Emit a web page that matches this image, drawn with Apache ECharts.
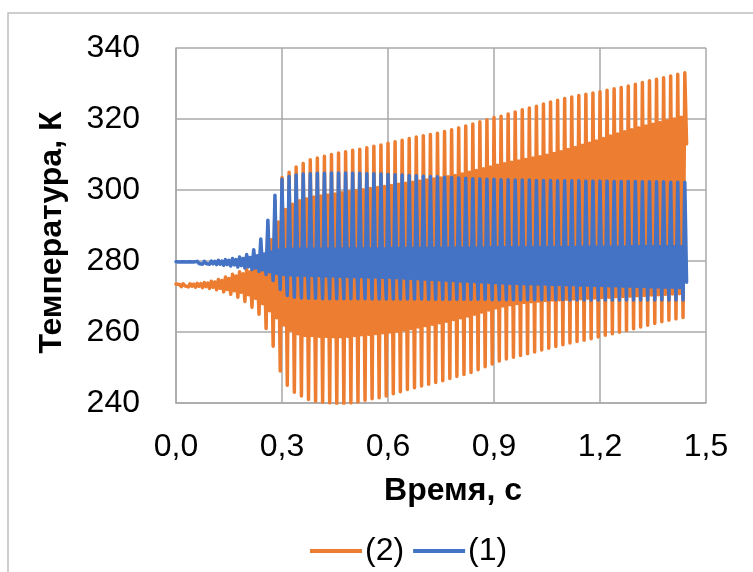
<!DOCTYPE html>
<html>
<head>
<meta charset="utf-8">
<script src="https://cdn.jsdelivr.net/npm/echarts@6/dist/echarts.min.js"></script>
<style>
  html, body { margin: 0; padding: 0; background: #fff; }
  #chart { width: 753px; height: 572px; }
</style>
</head>
<body>
<div id="chart"></div>
<script>
// start time of each 50 Hz cycle, s
const cycleT = [
  0.00, 0.02, 0.04, 0.06, 0.08, 0.10, 0.12, 0.14, 0.16, 0.18,
  0.20, 0.22, 0.24, 0.26, 0.28, 0.30, 0.32, 0.34, 0.36, 0.38,
  0.40, 0.42, 0.44, 0.46, 0.48, 0.50, 0.52, 0.54, 0.56, 0.58,
  0.60, 0.62, 0.64, 0.66, 0.68, 0.70, 0.72, 0.74, 0.76, 0.78,
  0.80, 0.82, 0.84, 0.86, 0.88, 0.90, 0.92, 0.94, 0.96, 0.98,
  1.00, 1.02, 1.04, 1.06, 1.08, 1.10, 1.12, 1.14, 1.16, 1.18,
  1.20, 1.22, 1.24, 1.26, 1.28, 1.30, 1.32, 1.34, 1.36, 1.38,
  1.40, 1.42, 1.44
];
// position of the 4 extremes inside one cycle, s
const phase = [0, 0.005, 0.01, 0.015];

// (2) - orange: main peak, secondary dip, secondary peak, main trough (K)
const orangePeak = [
  273.5, 273.6, 273.6, 273.7, 273.9, 274.3, 274.8, 275.5, 276.3, 277.0,
  277.8, 279.0, 283.0, 290.0, 297.0, 303.5, 305.0, 306.5, 307.5, 308.5,
  309.0, 309.5, 310.0, 310.4, 310.8, 311.2, 311.5, 311.9, 312.3, 312.7,
  313.2, 313.6, 314.0, 314.5, 314.9, 315.3, 315.6, 316.0, 316.5, 317.0,
  317.5, 318.0, 318.6, 319.2, 319.8, 320.4, 320.8, 321.4, 322.0, 322.6,
  323.1, 323.6, 324.2, 324.8, 325.3, 325.8, 326.2, 326.6, 327.0, 327.3,
  327.7, 328.1, 328.5, 328.9, 329.3, 329.8, 330.3, 330.8, 331.2, 331.6,
  332.1, 332.6, 333.0
];
const orangeDip = [
  273.0, 273.0, 272.9, 272.9, 272.8, 272.6, 272.3, 272.0, 271.6, 271.2,
  270.5, 269.5, 268.0, 266.0, 264.0, 262.0, 260.5, 259.5, 259.0, 259.0,
  258.8, 258.8, 258.7, 258.7, 258.8, 259.0, 259.2, 259.4, 259.6, 259.8,
  260.0, 260.3, 260.6, 261.0, 261.4, 261.8, 262.2, 262.6, 263.0, 263.5,
  264.0, 264.5, 265.0, 265.6, 266.2, 266.8, 267.3, 267.7, 268.0, 268.3,
  268.5, 268.7, 268.9, 269.0, 269.1, 269.2, 269.3, 269.4, 269.5, 269.6,
  269.7, 269.8, 269.9, 270.0, 270.1, 270.2, 270.3, 270.4, 270.5, 270.6,
  270.7, 270.8, 313.0
];
const orangePeak2 = [
  273.4, 273.5, 273.5, 273.6, 273.8, 274.1, 274.5, 275.1, 275.8, 276.4,
  277.0, 278.0, 281.0, 286.0, 291.0, 294.5, 296.0, 297.0, 297.5, 298.0,
  298.3, 298.6, 298.9, 299.2, 299.5, 299.8, 300.1, 300.4, 300.7, 301.0,
  301.3, 301.6, 301.9, 302.2, 302.5, 302.8, 303.1, 303.4, 303.7, 304.1,
  304.5, 305.0, 305.5, 306.0, 306.5, 307.0, 307.4, 307.8, 308.2, 308.6,
  309.0, 309.4, 309.8, 310.3, 310.8, 311.4, 312.0, 312.6, 313.2, 313.8,
  314.5, 315.2, 315.8, 316.4, 317.0, 317.5, 318.0, 318.5, 319.0, 319.5,
  320.0, 320.5
];
const orangeTrough = [
  272.8, 272.7, 272.6, 272.5, 272.3, 271.9, 271.3, 270.6, 269.8, 268.6,
  267.0, 265.0, 261.0, 256.0, 249.0, 245.0, 243.0, 242.0, 241.0, 240.5,
  240.2, 240.0, 239.8, 239.8, 240.0, 240.3, 240.8, 241.2, 241.5, 242.0,
  242.6, 243.2, 243.8, 244.3, 244.8, 245.3, 245.8, 246.3, 246.9, 247.5,
  248.0, 248.6, 249.4, 250.2, 251.0, 251.8, 252.4, 252.9, 253.4, 253.9,
  254.4, 254.9, 255.4, 255.9, 256.4, 256.9, 257.3, 257.7, 258.1, 258.6,
  259.1, 259.5, 259.9, 260.4, 260.9, 261.4, 261.9, 262.4, 262.9, 263.3,
  263.7, 264.1
];

// (1) - blue
const bluePeak = [
  279.8, 279.8, 279.8, 279.9, 279.9, 280.0, 280.2, 280.4, 280.7, 281.1,
  281.8, 283.2, 286.2, 291.5, 298.5, 303.0, 303.8, 304.2, 304.5, 304.6,
  304.7, 304.7, 304.8, 304.8, 304.8, 304.7, 304.7, 304.6, 304.6, 304.5,
  304.4, 304.3, 304.2, 304.1, 304.0, 303.9, 303.8, 303.7, 303.6, 303.5,
  303.4, 303.3, 303.2, 303.1, 303.0, 303.0, 302.9, 302.9, 302.8, 302.8,
  302.8, 302.7, 302.7, 302.7, 302.6, 302.6, 302.6, 302.6, 302.5, 302.5,
  302.5, 302.5, 302.4, 302.4, 302.4, 302.4, 302.3, 302.3, 302.3, 302.3,
  302.2, 302.2, 302.2
];
const blueDip = [
  279.4, 279.4, 279.4, 279.3, 279.3, 279.2, 279.1, 279.0, 278.9, 278.7,
  278.4, 278.0, 277.5, 277.0, 276.5, 276.2, 276.1, 276.0, 276.0, 275.9,
  275.9, 275.8, 275.8, 275.7, 275.7, 275.6, 275.6, 275.5, 275.5, 275.4,
  275.4, 275.3, 275.2, 275.1, 275.0, 274.9, 274.8, 274.7, 274.6, 274.5,
  274.4, 274.3, 274.2, 274.1, 274.0, 273.9, 273.8, 273.7, 273.7, 273.6,
  273.6, 273.5, 273.5, 273.4, 273.4, 273.3, 273.3, 273.2, 273.2, 273.1,
  273.1, 273.0, 273.0, 272.9, 272.9, 272.8, 272.8, 272.7, 272.7, 272.6,
  272.6, 272.5, 274.0
];
const bluePeak2 = [
  279.7, 279.7, 279.7, 279.8, 279.8, 279.9, 280.0, 280.2, 280.4, 280.7,
  281.0, 281.5, 282.0, 282.5, 283.0, 283.2, 283.3, 283.3, 283.3, 283.3,
  283.3, 283.3, 283.3, 283.4, 283.4, 283.4, 283.4, 283.4, 283.4, 283.4,
  283.5, 283.5, 283.5, 283.5, 283.5, 283.5, 283.5, 283.6, 283.6, 283.6,
  283.6, 283.6, 283.6, 283.6, 283.7, 283.7, 283.7, 283.7, 283.7, 283.7,
  283.8, 283.8, 283.8, 283.8, 283.8, 283.8, 283.8, 283.9, 283.9, 283.9,
  283.9, 283.9, 283.9, 283.9, 284.0, 284.0, 284.0, 284.0, 284.0, 284.0,
  284.0, 284.0
];
const blueTrough = [
  279.2, 279.2, 279.2, 279.1, 279.1, 279.0, 278.8, 278.6, 278.3, 278.0,
  277.6, 277.1, 276.2, 274.5, 272.0, 270.3, 269.8, 269.6, 269.5, 269.5,
  269.4, 269.4, 269.4, 269.4, 269.4, 269.4, 269.4, 269.3, 269.3, 269.3,
  269.3, 269.3, 269.3, 269.3, 269.3, 269.2, 269.2, 269.2, 269.2, 269.2,
  269.2, 269.2, 269.2, 269.2, 269.1, 269.1, 269.1, 269.1, 269.1, 269.1,
  269.1, 269.1, 269.1, 269.1, 269.1, 269.0, 269.0, 269.0, 269.0, 269.0,
  269.0, 269.0, 269.0, 269.0, 269.0, 269.0, 269.0, 269.0, 269.0, 269.0,
  269.0, 269.0
];

const xTicks = [0, 0.3, 0.6, 0.9, 1.2, 1.5];
const yTicks = [240, 260, 280, 300, 320, 340];

// join the extremes of every cycle into one trace
function trace(p1, d, p2, t1) {
  const pts = [];
  cycleT.forEach((t, i) => {
    [p1[i], d[i], p2[i], t1[i]].forEach((v, k) => {
      if (v !== undefined) pts.push([+(t + phase[k]).toFixed(4), v]);
    });
  });
  return pts;
}

const font = 'Liberation Sans';
const gridColor = '#a9a9a9';

const myChart = echarts.init(document.getElementById('chart'), null, { renderer: 'canvas' });

const option = {
  animation: false,
  backgroundColor: '#fff',
  textStyle: { fontFamily: font, color: '#000' },
  graphic: [{
    type: 'rect',
    shape: { x: 8, y: 13, width: 800, height: 620 },
    style: { fill: 'none', stroke: '#bfbfbf', lineWidth: 1.5 },
    silent: true
  }],
  grid: { left: 176, right: 47, top: 48, bottom: 169 },
  legend: {
    data: ['(2)', '(1)'],
    left: 305,
    top: 530,
    icon: 'rect',
    itemWidth: 52,
    itemHeight: 4,
    itemGap: 9,
    textStyle: { fontFamily: font, fontSize: 32, color: '#000', padding: [0, 0, 0, -2] }
  },
  xAxis: {
    type: 'value',
    min: xTicks[0],
    max: xTicks[xTicks.length - 1],
    interval: 0.3,
    name: 'Время, с',
    nameLocation: 'middle',
    nameGap: 72,
    nameTextStyle: { fontFamily: font, fontSize: 32, fontWeight: 'bold', color: '#000', padding: [0, 0, 0, 24] },
    axisLine: { show: true, lineStyle: { color: gridColor, width: 1.5 } },
    axisTick: { show: false },
    axisLabel: {
      fontSize: 32, color: '#000', margin: 28,
      formatter: v => v.toFixed(1).replace('.', ',')
    },
    splitLine: { show: true, lineStyle: { color: gridColor, width: 1.5 } }
  },
  yAxis: {
    type: 'value',
    min: yTicks[0],
    max: yTicks[yTicks.length - 1],
    interval: 20,
    name: 'Температура, К',
    nameLocation: 'middle',
    nameGap: 108,
    nameTextStyle: { fontFamily: font, fontSize: 32, fontWeight: 'bold', color: '#000', padding: [0, 14, 0, 0] },
    axisLine: { show: true, lineStyle: { color: gridColor, width: 1.5 } },
    axisTick: { show: false },
    axisLabel: { fontSize: 32, color: '#000', margin: 36 },
    splitLine: { show: true, lineStyle: { color: gridColor, width: 1.5 } }
  },
  series: [
    {
      name: '(2)',
      type: 'line',
      data: trace(orangePeak, orangeDip, orangePeak2, orangeTrough),
      symbol: 'none',
      sampling: null,
      lineStyle: { color: '#ED7D31', width: 3.5, cap: 'round', join: 'round' },
      itemStyle: { color: '#ED7D31' }
    },
    {
      name: '(1)',
      type: 'line',
      data: trace(bluePeak, blueDip, bluePeak2, blueTrough),
      symbol: 'none',
      sampling: null,
      lineStyle: { color: '#4472C4', width: 3.5, cap: 'round', join: 'round' },
      itemStyle: { color: '#4472C4' }
    }
  ]
};

myChart.setOption(option);
</script>
</body>
</html>
